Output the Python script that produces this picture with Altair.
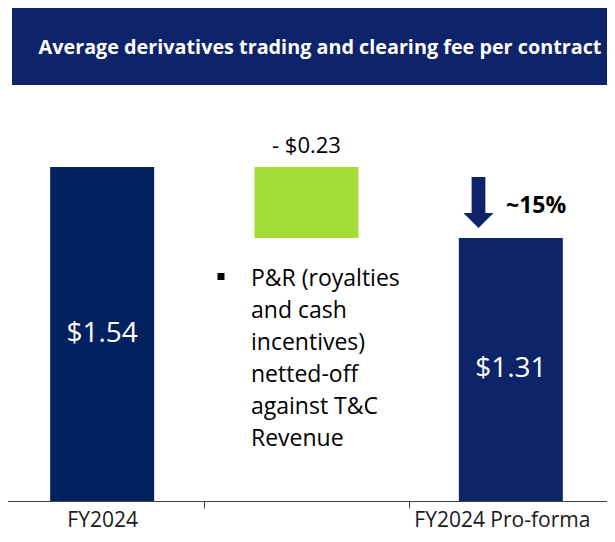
import altair as alt
import pandas as pd

TITLE = "Average derivatives trading and clearing fee per contract"
categories = ["FY2024", "P&R", "FY2024 Pro-forma"]
tops = [1.54, 1.54, 1.31]
bases = [0.0, 1.31, 0.0]
bar_colors = ["#03215F", "#A5DD37", "#0D2468"]
value_labels = ["$1.54", "- $0.23", "$1.31"]
change_label = "~15%"
note_lines = ["P&R (royalties", "and cash", "incentives)", "netted-off", "against T&C", "Revenue"]

Y_DOMAIN = [0.458, 2.055]
FONT = "Open Sans"
NAVY = "#0E2369"
ARROW = "M -0.27 -1 L 0.27 -1 L 0.27 0.41 L 0.59 0.41 L 0 1 L -0.59 0.41 L -0.27 0.41 Z"

df = pd.DataFrame({"cat": categories, "top": tops, "base": bases, "label": value_labels})
df["mid"] = (df["top"] + df["base"].clip(lower=Y_DOMAIN[0])) / 2
one = pd.DataFrame({"t": [change_label]})

x = alt.X(
    "cat:N",
    sort=categories,
    scale=alt.Scale(range=[-8, 605], paddingInner=0, paddingOuter=0),
    axis=alt.Axis(
        title=None, labelAngle=0, tickBand="extent", labelLimit=400,
        labelExpr="datum.value == 'P&R' ? '' : datum.value",
        labelOffset={"condition": {"test": "datum.value == 'FY2024 Pro-forma'", "value": -9}, "value": 0},
        labelFont=FONT, labelFontSize=21, labelColor="#1a1a1a",
        labelBaseline="alphabetic", labelPadding=18, tickSize=7,
        domainColor="#404040", tickColor="#404040", domainWidth=1, tickWidth=1,
    ),
)
yscale = alt.Scale(domain=Y_DOMAIN)

banner = alt.Chart(one).mark_rect(color=NAVY).encode(
    x=alt.value(4), x2=alt.value(599), y=alt.value(-1), y2=alt.value(77)
)
banner_text = alt.Chart(one).mark_text(
    text=TITLE, font=FONT, fontSize=19.8, fontWeight="bold", color="white",
    align="center", baseline="middle",
).encode(x=alt.value(312), y=alt.value(40))

bars = alt.Chart(df).mark_bar(size=104, clip=True).encode(
    x=x,
    y=alt.Y("top:Q", scale=yscale, axis=None),
    y2="base:Q",
    color=alt.Color("cat:N", scale=alt.Scale(domain=categories, range=bar_colors), legend=None),
)
total_labels = alt.Chart(df).transform_filter("datum.cat != 'P&R'").mark_text(
    font=FONT, fontSize=28, color="white", baseline="middle", align="center"
).encode(x=x, y=alt.Y("mid:Q", scale=yscale), text="label:N")
delta_label = alt.Chart(df).transform_filter("datum.cat == 'P&R'").mark_text(
    font=FONT, fontSize=22, color="black", baseline="alphabetic", align="center", dy=-14
).encode(x=x, y=alt.Y("top:Q", scale=yscale), text="label:N")

arrow = alt.Chart(one).mark_point(
    shape=ARROW, size=2601, filled=True, color=NAVY, opacity=1, strokeWidth=0
).encode(x=alt.value(470.5), y=alt.value(194.5))
change = alt.Chart(one).mark_text(
    font=FONT, fontSize=23, fontWeight="bold", color="black", align="left", baseline="alphabetic"
).encode(x=alt.value(498), y=alt.value(205), text="t:N")

bullet = alt.Chart(one).mark_square(size=49, color="black", filled=True, opacity=1).encode(
    x=alt.value(213), y=alt.value(268.5)
)
note = alt.Chart(one).mark_text(
    text=note_lines, font=FONT, fontSize=23, color="black", align="left",
    baseline="top", lineHeight=32,
).encode(x=alt.value(243), y=alt.value(260))

chart = alt.layer(
    banner, banner_text, bars, total_labels, delta_label, arrow, change, bullet, note
).properties(
    width=599, height=493,
    autosize=alt.AutoSizeParams(type="none"),
    padding={"left": 0, "top": 0, "right": 0, "bottom": 33},
).configure_view(stroke=None)

chart.save("out.html", embed_options={"renderer": "svg", "actions": False})
